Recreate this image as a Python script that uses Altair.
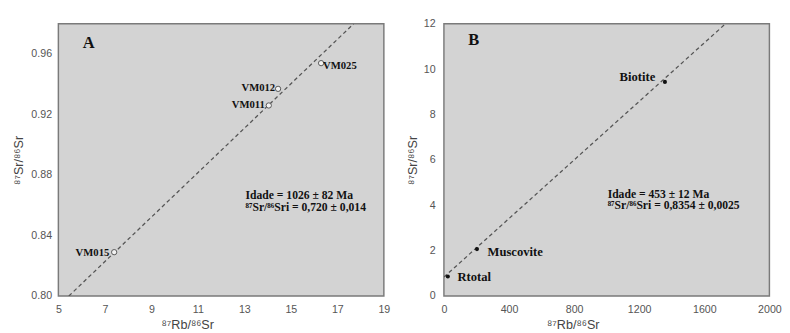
import altair as alt
import pandas as pd

# ---------------- data ----------------
# Panel A (whole-rock isochron)
a_samples = ["VM015", "VM011", "VM012", "VM025"]
a_rb = [7.4, 14.05, 14.45, 16.3]
a_sr = [0.829, 0.926, 0.937, 0.954]
a_line_x = [5.45, 17.7]
a_line_y = [0.80, 0.98]
a_ticks_x = [5, 7, 9, 11, 13, 15, 17, 19]
a_ticks_y = [0.80, 0.84, 0.88, 0.92, 0.96]
a_notes = ["Idade = 1026 ± 82 Ma", "⁸⁷Sr/⁸⁶Sri = 0,720 ± 0,014"]

# Panel B (mineral isochron)
b_samples = ["Rtotal", "Muscovite", "Biotite"]
b_rb = [24, 203, 1358]
b_sr = [0.86, 2.07, 9.44]
b_line_x = [0, 1730]
b_line_y = [0.8354, 12]
b_ticks_x = [0, 400, 800, 1200, 1600, 2000]
b_ticks_y = [0, 2, 4, 6, 8, 10, 12]
b_notes = ["Idade = 453 ± 12 Ma", "⁸⁷Sr/⁸⁶Sri = 0,8354 ± 0,0025"]

X_TITLE = "⁸⁷Rb/⁸⁶Sr"
Y_TITLE = "⁸⁷Sr/⁸⁶Sr"

SERIF = "Liberation Serif"
SANS = "Liberation Sans"
W, H = 336, 281


def axis_x(values, fmt):
    return alt.Axis(values=values, format=fmt, grid=False, ticks=False, tickSize=0,
                    domain=False, labelFont=SANS, labelFontSize=11, labelColor="#555",
                    labelPadding=8, labelFlush=False, labelOverlap=False,
                    title=X_TITLE, titleFont=SANS, titleFontSize=13,
                    titleFontWeight="normal", titleColor="#444", titlePadding=5,
                    titleX=133)


def axis_y(values, fmt, lab_pad, title_pad):
    return alt.Axis(values=values, format=fmt, grid=False, ticks=False, tickSize=0,
                    domain=False, labelFont=SANS, labelFontSize=11, labelColor="#555",
                    labelPadding=lab_pad, labelFlush=False, labelOverlap=False,
                    title=Y_TITLE, titleFont=SANS, titleFontSize=13,
                    titleFontWeight="normal", titleColor="#444", titlePadding=title_pad)


def panel(letter, samples, xs, ys, line_x, line_y, xdom, ydom, xticks, yticks,
          xfmt, yfmt, label_styles, notes, note_x, note_y, letter_xy, open_pts,
          lab_pad, title_pad, label_size):
    xsc = alt.Scale(domain=xdom, nice=False, zero=False)
    ysc = alt.Scale(domain=ydom, nice=False, zero=False)
    pts = pd.DataFrame({"x": xs, "y": ys, "name": samples})
    line = pd.DataFrame({"x": line_x, "y": line_y})

    base_x = alt.X("x:Q", scale=xsc, axis=axis_x(xticks, xfmt))
    base_y = alt.Y("y:Q", scale=ysc, axis=axis_y(yticks, yfmt, lab_pad, title_pad))

    line_layer = alt.Chart(line).mark_line(
        color="#555", strokeDash=[4, 3], strokeWidth=1.3, clip=True
    ).encode(x=base_x, y=base_y)

    if open_pts:
        pt_layer = alt.Chart(pts).mark_point(
            shape="circle", filled=True, fill="#f2f2f2", stroke="#555",
            strokeWidth=1, size=30, opacity=1
        ).encode(x="x:Q", y="y:Q")
    else:
        pt_layer = alt.Chart(pts).mark_point(
            shape="circle", filled=True, color="#111", size=18, opacity=1
        ).encode(x="x:Q", y="y:Q")

    layers = [line_layer, pt_layer]
    for name, (align, dx, dy) in label_styles.items():
        layers.append(
            alt.Chart(pts).transform_filter(alt.datum.name == name).mark_text(
                font=SERIF, fontWeight="bold", fontSize=label_size, color="#111",
                align=align, baseline="middle", dx=dx, dy=dy
            ).encode(x="x:Q", y="y:Q", text="name:N")
        )

    note_df = pd.DataFrame({"t": notes, "x": [note_x, note_x], "y": note_y})
    layers.append(
        alt.Chart(note_df).mark_text(
            font=SERIF, fontWeight="bold", fontSize=12, color="#111",
            align="left", baseline="middle"
        ).encode(x="x:Q", y="y:Q", text="t:N")
    )
    letter_df = pd.DataFrame({"t": [letter], "x": [letter_xy[0]], "y": [letter_xy[1]]})
    layers.append(
        alt.Chart(letter_df).mark_text(
            font=SERIF, fontWeight="bold", fontSize=17, color="#111",
            align="left", baseline="middle"
        ).encode(x="x:Q", y="y:Q", text="t:N")
    )
    return alt.layer(*layers).properties(width=W, height=H)


chart_a = panel(
    "A", a_samples, a_rb, a_sr, a_line_x, a_line_y, [5, 19], [0.80, 0.98],
    a_ticks_x, a_ticks_y, "d", ".2f",
    {"VM015": ("right", -5, 1), "VM011": ("right", -4, 0),
     "VM012": ("right", -3, -1), "VM025": ("left", 2, 3)},
    a_notes, 13.05, [0.867, 0.859], (6.05, 0.967), True, 7, 6, 11)

chart_b = panel(
    "B", b_samples, b_rb, b_sr, b_line_x, b_line_y, [0, 2000], [0, 12],
    b_ticks_x, b_ticks_y, "d", "d",
    {"Rtotal": ("left", 10, 1), "Muscovite": ("left", 11, 3),
     "Biotite": ("right", -10, -5)},
    b_notes, 1006, [4.5, 3.99], (150, 11.3), False, 9, 4, 13)

chart = alt.hconcat(chart_a, chart_b, spacing=16).properties(
    padding={"left": 3, "top": 4, "right": 0, "bottom": 0},
    background="white"
).configure_view(
    fill="#d3d3d3", stroke="#7a7a7a", strokeWidth=1.5
)

chart.save("out.html", embed_options={"renderer": "svg", "actions": False})
